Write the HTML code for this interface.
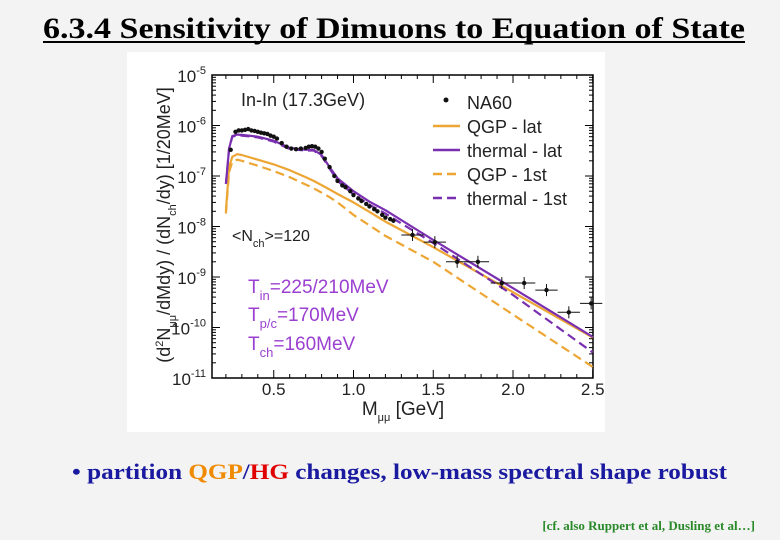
<!DOCTYPE html>
<html><head><meta charset="utf-8"><style>
html,body{margin:0;padding:0;background:#f3f3f3;}
svg{display:block;}
</style></head><body>
<svg width="780" height="540" viewBox="0 0 780 540" xmlns="http://www.w3.org/2000/svg">
<rect x="0" y="0" width="780" height="540" fill="#f3f3f3"/>
<text x="43" y="38" font-family="Liberation Serif, serif" font-weight="bold" font-size="30" textLength="702" lengthAdjust="spacingAndGlyphs" fill="#000">6.3.4 Sensitivity of Dimuons to Equation of State</text>
<line x1="43" y1="42" x2="745" y2="42" stroke="#000" stroke-width="2"/>
<rect x="127" y="52" width="478" height="380" fill="#fff"/>
<g id="chart"></g>
<text x="72" y="479" font-family="Liberation Serif, serif" font-weight="bold" font-size="22" textLength="655" lengthAdjust="spacingAndGlyphs" fill="#1a1aa0">• partition <tspan fill="#f08a00">QGP</tspan>/<tspan fill="#e00000">HG</tspan> changes,  low-mass spectral shape robust</text>
<text x="755" y="530" text-anchor="end" font-family="Liberation Serif, serif" font-weight="bold" font-size="13" fill="#2a8a2a">[cf. also Ruppert et al, Dusling et al…]</text>
</svg>
<script>
// data (mass in GeV, values are yields)
const na60Mass = [0.23,0.26,0.28,0.30,0.32,0.34,0.36,0.38,0.40,0.42,0.44,0.46,0.48,0.50,0.52,0.55,0.58,0.61,0.64,0.67,0.70,0.72,0.74,0.76,0.78,0.80,0.82,0.85,0.88,0.90,0.93,0.95,0.98,1.00,1.03,1.05,1.08,1.10,1.13,1.15,1.18,1.20,1.23,1.25,1.37,1.51,1.65,1.78,1.93,2.07,2.21,2.35,2.49];
const na60Yield = [3.3e-7,7.5e-7,8e-7,8e-7,8.2e-7,8.5e-7,8e-7,7.8e-7,7.5e-7,7.2e-7,7e-7,6.8e-7,6.3e-7,6e-7,5.5e-7,4.5e-7,3.8e-7,3.5e-7,3.4e-7,3.5e-7,3.6e-7,3.8e-7,3.9e-7,3.8e-7,3.5e-7,3e-7,2.2e-7,1.5e-7,1e-7,8e-8,6.5e-8,6e-8,5e-8,4.2e-8,3.6e-8,3.2e-8,2.8e-8,2.5e-8,2.2e-8,2e-8,1.7e-8,1.5e-8,1.4e-8,1.3e-8,6.8e-9,4.9e-9,2e-9,2e-9,7.6e-10,7.6e-10,5.5e-10,2e-10,3e-10];
const curveMass = [0.20,0.22,0.24,0.27,0.30,0.40,0.50,0.60,0.70,0.75,0.80,0.85,0.90,1.00,1.10,1.20,1.50,2.00,2.50];
const thermalLat = [7e-8,3.5e-7,6.2e-7,6.6e-7,6.5e-7,6e-7,5e-7,3.6e-7,3.3e-7,3.3e-7,2.6e-7,1.5e-7,9e-8,5e-8,3.1e-8,2.1e-8,5.4e-9,6e-10,6.5e-11];
const thermal1st = [7e-8,3.5e-7,6e-7,6.4e-7,6.3e-7,5.8e-7,4.8e-7,3.4e-7,3.2e-7,3.2e-7,2.5e-7,1.4e-7,8e-8,4.3e-8,2.7e-8,1.8e-8,4.7e-9,4.4e-10,3.2e-11];
const qgpLat = [2e-8,1.5e-7,2.4e-7,2.7e-7,2.6e-7,2.1e-7,1.7e-7,1.3e-7,9.5e-8,8e-8,6.6e-8,5.4e-8,4.4e-8,3e-8,1.95e-8,1.25e-8,3.9e-9,5e-10,6.3e-11];
const qgp1st = [1.8e-8,1.2e-7,1.9e-7,2.1e-7,2e-7,1.6e-7,1.25e-7,9.5e-8,6.8e-8,5.7e-8,4.7e-8,3.8e-8,3e-8,1.7e-8,1.05e-8,6.5e-9,2e-9,1.8e-10,1.65e-11];
const xTicks = [0.5,1.0,1.5,2.0,2.5];
const xTickLabels = ["0.5","1.0","1.5","2.0","2.5"];
const yExps = [-5,-6,-7,-8,-9,-10,-11];

const NS='http://www.w3.org/2000/svg';
const g=document.getElementById('chart');
const L=212,R=593,T=75,B=378;
function xs(m){return 194+ (m)*159.5;}
function ys(v){return T+(-5-Math.log10(v))*50.5;}
function mk(tag,attrs,parent){const e=document.createElementNS(NS,tag);for(const k in attrs)e.setAttribute(k,attrs[k]);(parent||g).appendChild(e);return e;}

const frame=mk('rect',{x:L,y:T,width:R-L,height:B-T,fill:'none',stroke:'#000','stroke-width':1.5});



for(let e=-11;e<=-5;e++){
  const y=ys(Math.pow(10,e));
  mk('line',{x1:L,y1:y,x2:L+8,y2:y,stroke:'#000'});
  mk('line',{x1:R,y1:y,x2:R-8,y2:y,stroke:'#000'});
  if(e<-5){for(let k=2;k<=9;k++){const yy=ys(k*Math.pow(10,e));
    mk('line',{x1:L,y1:yy,x2:L+4,y2:yy,stroke:'#000'});
    mk('line',{x1:R,y1:yy,x2:R-4,y2:yy,stroke:'#000'});}}
}
yExps.forEach(e=>{
  const t=mk('text',{x:L-6,y:ys(Math.pow(10,e))+7,'text-anchor':'end','font-family':'Liberation Sans, sans-serif','font-size':17,fill:'#222'});
  
  
  t.innerHTML='10<tspan dy="-8" font-size="11">'+e+'</tspan>';
});
for(let m=0.2;m<=2.5001;m+=0.1){const x=xs(m);const maj=Math.abs(m*2-Math.round(m*2))<0.01;
  mk('line',{x1:x,y1:B,x2:x,y2:B-(maj?8:4),stroke:'#000'});
  mk('line',{x1:x,y1:T,x2:x,y2:T+(maj?8:4),stroke:'#000'});}
xTicks.forEach((m,i)=>{
  const t=mk('text',{x:xs(m),y:B+17,'text-anchor':'middle','font-family':'Liberation Sans, sans-serif','font-size':17,fill:'#222'});
  
  
  t.textContent=xTickLabels[i];
});
const xt=mk('text',{x:403,y:415,'text-anchor':'middle','font-family':'Liberation Sans, sans-serif','font-size':19,fill:'#222'});


xt.innerHTML='M<tspan dy="6" font-size="11">μμ</tspan><tspan dy="-6"> [GeV]</tspan>';
const yt=mk('text',{x:0,y:0,transform:'translate(170,225) rotate(-90)','text-anchor':'middle','font-family':'Liberation Sans, sans-serif','font-size':18,fill:'#222'});


yt.innerHTML='(d<tspan dy="-7" font-size="11">2</tspan><tspan dy="7">N</tspan><tspan dy="6" font-size="11">μμ</tspan><tspan dy="-6">/dMdy) / (dN</tspan><tspan dy="6" font-size="11">ch</tspan><tspan dy="-6">/dy)  [1/20MeV]</tspan>';

function curve(arr,color,dash,name){
  const d=curveMass.map((m,i)=>(i?'L':'M')+xs(m).toFixed(1)+','+ys(arr[i]).toFixed(1)).join(' ');
  const p=mk('path',{d:d,fill:'none',stroke:color,'stroke-width':2.2,'stroke-dasharray':dash||'none','stroke-linejoin':'round'});
  
  
}
const OR='#eda634',PU='#7a2fb0';
curve(qgp1st,OR,'9,5','qgp-1st-line');
curve(qgpLat,OR,'','qgp-lat-line');
curve(thermal1st,PU,'9,5','thermal-1st-line');
curve(thermalLat,PU,'','thermal-lat-line');

na60Mass.forEach((m,i)=>{
  const x=xs(m),y=ys(na60Yield[i]);
  if(m>1.3){mk('line',{x1:xs(m-0.07),y1:y,x2:xs(m+0.07),y2:y,stroke:'#111'});
    mk('line',{x1:x,y1:y-6,x2:x,y2:y+6,stroke:'#111'});}
  const c=mk('circle',{cx:x,cy:y,r:2.2,fill:'#111'});
  
  
});

const lg=[['NA60',null,''],['QGP - lat',OR,''],['thermal - lat',PU,''],['QGP - 1st',OR,'9,5'],['thermal - 1st',PU,'9,5']];
lg.forEach((e,i)=>{
  const y=102+i*24;
  if(e[1]) mk('line',{x1:433,y1:y,x2:460,y2:y,stroke:e[1],'stroke-width':2.5,'stroke-dasharray':e[2]||'none'});
  else mk('circle',{cx:446,cy:y-2,r:2.5,fill:'#111'});
  const t=mk('text',{x:467,y:y+7,'font-family':'Liberation Sans, sans-serif','font-size':18,fill:'#222'});
  
  
  t.textContent=e[0];
});
function lab(x,y,html,color,size,name){const t=mk('text',{x:x,y:y,'font-family':'Liberation Sans, sans-serif','font-size':size,fill:color});
  
  
  t.innerHTML=html;}
lab(241,106,'In-In (17.3GeV)','#222',18,'system-label');
lab(232,241,'&lt;N<tspan dy="6" font-size="11">ch</tspan><tspan dy="-6">&gt;=120</tspan>','#222',16,'nch-label');
lab(248,293,'T<tspan dy="7" font-size="13">in</tspan><tspan dy="-7">=225/210MeV</tspan>','#9a3fd0',19,'tin-label');
lab(248,321,'T<tspan dy="7" font-size="13">p/c</tspan><tspan dy="-7">=170MeV</tspan>','#9a3fd0',19,'tpc-label');
lab(248,350,'T<tspan dy="7" font-size="13">ch</tspan><tspan dy="-7">=160MeV</tspan>','#9a3fd0',19,'tch-label');
</script>
</body></html>
